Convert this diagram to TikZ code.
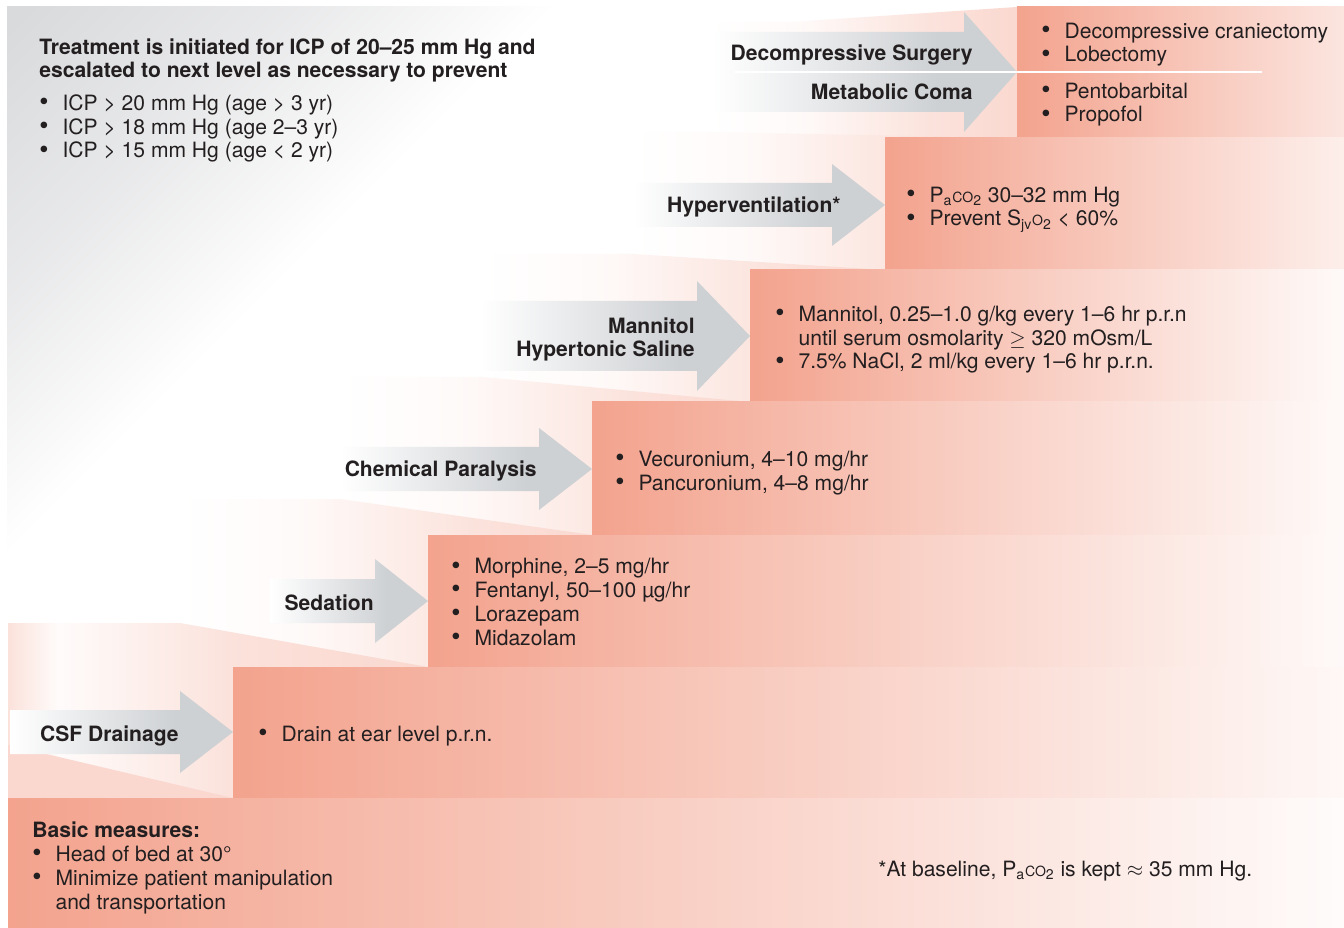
\documentclass[tikz,border=0pt]{standalone}
\usepackage{fontspec}
\setmainfont{TeX Gyre Heros}
\usetikzlibrary{positioning}

\definecolor{stepcolor}{HTML}{F3A38E}
\definecolor{arrowcolor}{HTML}{CED1D4}
\definecolor{bgcolor}{HTML}{D9DADC}
\definecolor{textcolor}{HTML}{231F20}

% shadings: grey corner, step tops, arrows
\pgfdeclarehorizontalshading{bgshade}{100bp}{color(0bp)=(bgcolor); color(15bp)=(bgcolor); color(22bp)=(bgcolor!60!white); color(29bp)=(white); color(100bp)=(white)}
\pgfdeclarehorizontalshading{treadshade}{100bp}{color(0bp)=(white); color(25bp)=(white); color(40bp)=(stepcolor!6); color(60bp)=(stepcolor!30); color(75bp)=(stepcolor!42); color(100bp)=(stepcolor!42)}
\pgfdeclarehorizontalshading{edgeshade}{100bp}{color(0bp)=(stepcolor!32); color(25bp)=(stepcolor!32); color(31bp)=(stepcolor!4); color(52bp)=(stepcolor!32); color(75bp)=(stepcolor!42); color(100bp)=(stepcolor!42)}
\pgfdeclarehorizontalshading{arrowshade}{100bp}{color(0bp)=(white); color(25bp)=(white); color(62bp)=(arrowcolor); color(100bp)=(arrowcolor)}

\newcommand{\itembul}{\makebox[1.1em][l]{\raisebox{-0.4pt}{\fontsize{15pt}{15pt}\selectfont\textbullet}}}
\newcommand{\itemind}{\hspace*{1.1em}}
\newcommand{\paco}{P\textsubscript{a}{\footnotesize CO}\textsubscript{2}}

\begin{document}
\begin{tikzpicture}[x=0.02cm, y=-0.02cm,
  items/.style={font=\fontsize{12pt}{13.6pt}\selectfont, text=textcolor,
                inner sep=0pt, align=left, anchor=base west},
  head/.style={items, font=\fontsize{12pt}{13.6pt}\selectfont\bfseries},
  lbl/.style={head, align=right, anchor=base east},
]
  \useasboundingbox (0,0) rectangle (1344,928);

  % grey corner behind the stairs
  \begin{scope}
    \clip (7,7) rectangle (1344,928);
    \shade[shading=bgshade, shading angle=-45] (7,7) rectangle (1344,1344);
  \end{scope}

  % step tops, upper ones first
  \foreach \s/\f/\a/\n/\t/\b in {710/790/22/1017/7/138, 633/710/132/1017/138/270,
      483/633/254/885/270/402, 340/483/377/750/402/535,
      180/340/499/592/535/667}
    \shade[shading=treadshade] (\s,\a) -- (\f,\a) -- (\n,\t) -- (\n,\b) -- (\s,\b) -- cycle;
  \shade[shading=edgeshade] (8,623) -- (180,623) -- (428,667) -- (428,798) -- (8,798) -- cycle;
  \fill[stepcolor!42] (8,745) -- (233,798) -- (8,798) -- cycle;

  % step fronts
  \foreach \x/\t/\b/\r in {1017/7/138/28, 885/138/270/18, 750/270/402/6,
      592/402/535/6, 428/535/667/6, 233/667/798/8, 8/798/928/4}
    \shade[left color=stepcolor, right color=stepcolor!\r] (\x,\t) rectangle (1344,\b);

  % arrows into each step
  \foreach \tip/\y/\h/\H/\s in {1017/72/40/60/712, 885/205/22/41/633,
      750/336/35/55/480, 592/469/22/41/340, 428/601/22/42/270, 233/732/22/41/10}
    \shade[shading=arrowshade] (\s,\y-\h) -- (\tip-53,\y-\h) -- (\tip-53,\y-\H)
      -- (\tip,\y) -- (\tip-53,\y+\H) -- (\tip-53,\y+\h) -- (\s,\y+\h) -- cycle;

  % split of the top step
  \coordinate (sepL) at (735,72);
  \coordinate (sepR) at (1262,72);
  \draw[white, line width=1.2pt] (sepL) -- (sepR);

  % header (multi-line nodes sit on their last line)
  \node[head] (title) at (39,78)
    {Treatment is initiated for ICP of 20--25 mm Hg and\\
     escalated to next level as necessary to prevent};
  \node[items] (limits) at (39,158)
    {\itembul ICP > 20 mm Hg (age > 3 yr)\\
     \itembul ICP > 18 mm Hg (age 2--3 yr)\\
     \itembul ICP > 15 mm Hg (age < 2 yr)};

  % top step
  \node[lbl] (surglbl) at (973,61) {Decompressive Surgery};
  \node[lbl] (comalbl) at (973,100) {Metabolic Coma};
  \node[items] (surgitems) at (1041,62)
    {\itembul Decompressive craniectomy\\\itembul Lobectomy};
  \node[items] (comaitems) at (1041,122)
    {\itembul Pentobarbital\\\itembul Propofol};

  % hyperventilation
  \node[lbl] (hyperlbl) at (841,213) {Hyperventilation*};
  \node[items] (hyperitems) at (906,226)
    {\itembul \paco{} 30--32 mm Hg\\
     \itembul Prevent S\textsubscript{jv}{\footnotesize O}\textsubscript{2} < 60\%};

  % osmotherapy
  \node[lbl] (osmolbl) at (695,357) {Mannitol\\Hypertonic Saline};
  \node[items] (osmoitems) at (775,369)
    {\itembul Mannitol, 0.25--1.0 g/kg every 1--6 hr p.r.n\\
     \itemind until serum osmolarity $\geq$ 320 mOsm/L\\
     \itembul 7.5\% NaCl, 2 ml/kg every 1--6 hr p.r.n.};

  % paralysis
  \node[lbl] (chemlbl) at (537,477) {Chemical Paralysis};
  \node[items] (chemitems) at (615,490)
    {\itembul Vecuronium, 4--10 mg/hr\\\itembul Pancuronium, 4--8 mg/hr};

  % sedation
  \node[lbl] (sedlbl) at (374,610) {Sedation};
  \node[items] (seditems) at (451,645)
    {\itembul Morphine, 2--5 mg/hr\\
     \itembul Fentanyl, 50--100 µg/hr\\
     \itembul Lorazepam\\
     \itembul Midazolam};

  % drainage
  \node[lbl] (csflbl) at (179,741) {CSF Drainage};
  \node[items] (csfitems) at (258,741) {\itembul Drain at ear level p.r.n.};

  % bottom step
  \node[head] (basic) at (32,837) {Basic measures:};
  \node[items] (basicitems) at (32,909)
    {\itembul Head of bed at 30°\\
     \itembul Minimize patient manipulation\\
     \itemind and transportation};
  \node[items] (note) at (878,876) {*At baseline, \paco{} is kept $\approx$ 35 mm Hg.};
\end{tikzpicture}
\end{document}
